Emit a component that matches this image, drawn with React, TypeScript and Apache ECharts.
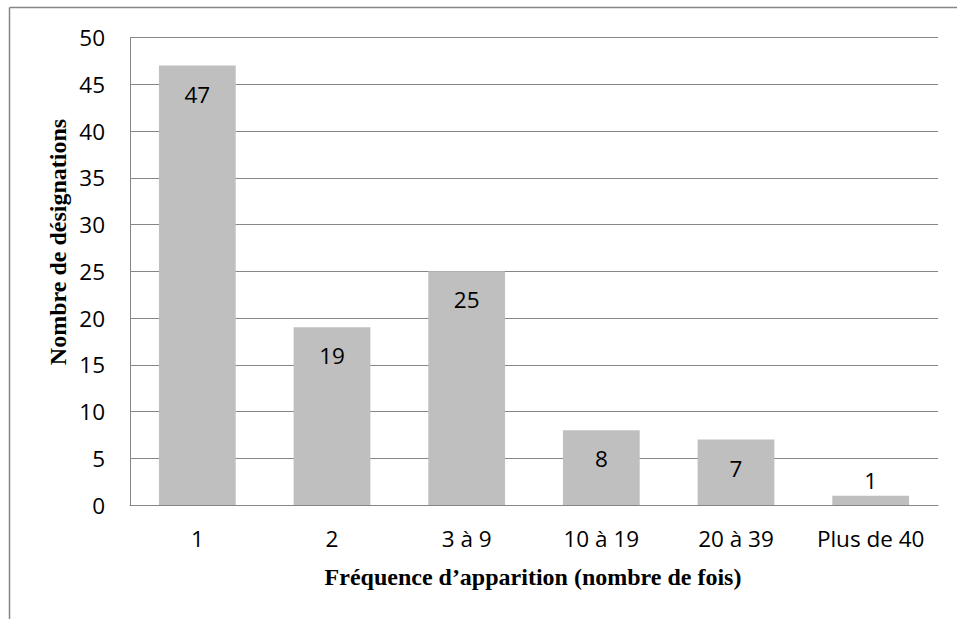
import React, { useEffect, useRef } from "react";
import * as echarts from "echarts";

const categories = ["1", "2", "3 à 9", "10 à 19", "20 à 39", "Plus de 40"];
const values = [47, 19, 25, 8, 7, 1];
const yTicks = { min: 0, max: 50, interval: 5 };
const xTitle = "Fréquence d\u2019apparition (nombre de fois)";
const yTitle = "Nombre de désignations";

export default function App() {
  const ref = useRef<HTMLDivElement>(null);
  useEffect(() => {
    const chart = echarts.init(ref.current!, null, { renderer: "svg" });
    const gray = "#868686";
    const data = values.map((v) => ({
      value: v,
      label: v < 3 ? { position: "top", distance: 4 } : { position: "insideTop", distance: 17 },
    }));
    chart.setOption({
      animation: false,
      backgroundColor: "#ffffff",
      grid: { left: 130, right: 19, top: 37.5, bottom: 114, containLabel: false },
      xAxis: {
        type: "category",
        data: categories,
        axisLine: { show: true, lineStyle: { color: gray, width: 1 } },
        axisTick: { show: false },
        axisLabel: {
          color: "#000",
          fontFamily: "Open Sans",
          fontSize: 22.5,
          margin: 22,
          interval: 0,
          hideOverlap: false,
        },
      },
      yAxis: {
        type: "value",
        min: yTicks.min,
        max: yTicks.max,
        interval: yTicks.interval,
        axisLine: { show: true, lineStyle: { color: gray, width: 1 } },
        axisTick: { show: false },
        splitLine: { show: true, lineStyle: { color: gray, width: 1 } },
        axisLabel: { color: "#000", fontFamily: "Open Sans", fontSize: 22.5, margin: 25 },
      },
      series: [
        {
          type: "bar",
          data,
          barWidth: "57%",
          itemStyle: { color: "#BFBFBF" },
          label: {
            show: true,
            color: "#000",
            fontFamily: "Open Sans",
            fontSize: 22.5,
          },
        },
      ],
      graphic: [
        {
          type: "line",
          shape: { x1: 9.5, y1: 7.5, x2: 957, y2: 7.5 },
          style: { stroke: gray, lineWidth: 1.5 },
        },
        {
          type: "line",
          shape: { x1: 9.5, y1: 7.5, x2: 9.5, y2: 619 },
          style: { stroke: gray, lineWidth: 1.5 },
        },
        {
          type: "text",
          x: 533,
          y: 577,
          style: {
            text: xTitle,
            font: "bold 24px 'Liberation Serif'",
            fill: "#000",
            align: "center",
            verticalAlign: "middle",
          },
        },
        {
          type: "text",
          x: 58,
          y: 242,
          rotation: Math.PI / 2,
          style: {
            text: yTitle,
            font: "bold 24px 'Liberation Serif'",
            fill: "#000",
            align: "center",
            verticalAlign: "middle",
          },
        },
      ],
    });
    return () => chart.dispose();
  }, []);
  return (
    <div
      ref={ref}
      style={{ position: "absolute", left: 0, top: 0, width: 957, height: 619 }}
    />
  );
}
